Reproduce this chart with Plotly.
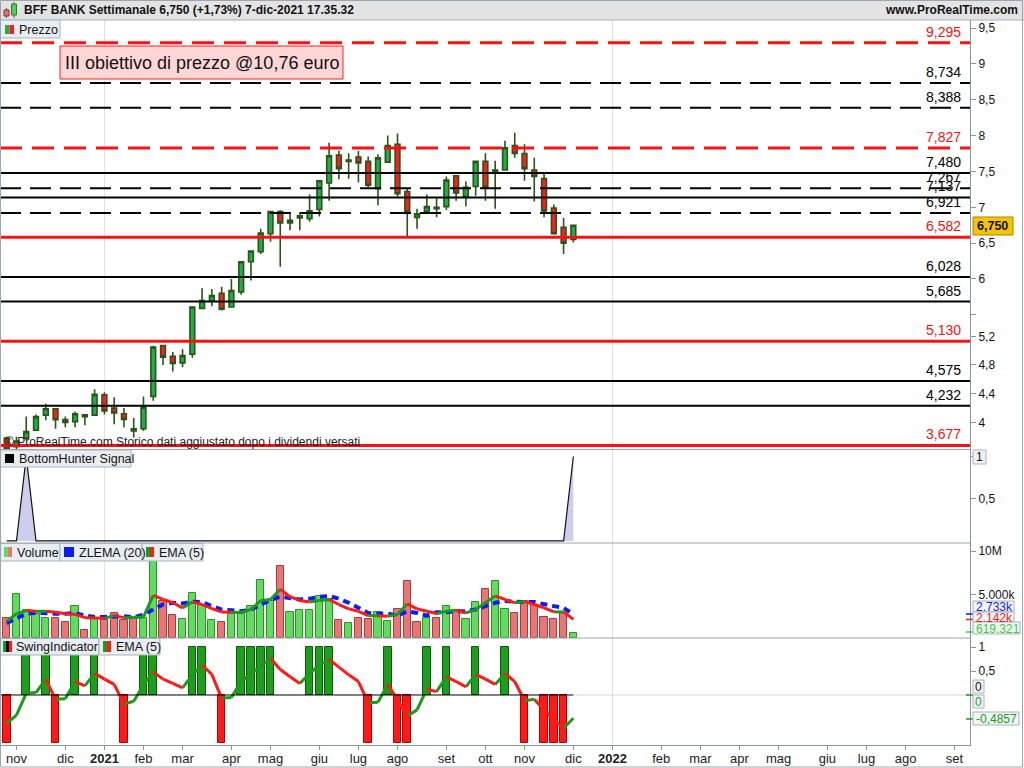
import pandas as pd
import plotly.graph_objects as go
from plotly.subplots import make_subplots

# ---------------- data ----------------
week_start = "2020-10-26"
n_weeks = 59
dates = pd.date_range(week_start, periods=n_weeks, freq="7D")

open_px = [3.78, 3.66, 3.78, 3.89, 4.10, 4.19, 4.04, 4.01, 4.105, 4.10,
           4.385, 4.20, 4.12, 3.91, 3.91, 4.36, 5.07, 4.92, 4.83, 4.95,
           5.59, 5.69, 5.80, 5.61, 5.82, 6.24, 6.38, 6.63, 6.94, 6.78,
           6.85, 6.84, 6.97, 7.34, 7.73, 7.64, 7.70, 7.64, 7.26, 7.63,
           7.88, 7.22, 6.86, 6.94, 6.98, 7.01, 7.44, 7.15, 7.29, 7.64,
           7.50, 7.52, 7.86, 7.75, 7.52, 7.40, 6.99, 6.72, 6.55]
high_px = [3.80, 3.80, 4.08, 4.11, 4.26, 4.20, 4.08, 4.15, 4.11, 4.46,
           4.42, 4.35, 4.20, 4.06, 4.36, 5.07, 5.08, 4.98, 5.02, 5.62,
           5.87, 5.86, 5.89, 6.00, 6.25, 6.40, 6.70, 6.95, 6.96, 6.91,
           6.93, 7.18, 7.38, 7.90, 7.79, 7.755, 7.79, 7.71, 7.74, 8.00,
           8.03, 7.26, 6.98, 7.18, 7.14, 7.43, 7.45, 7.36, 7.65, 7.755,
           7.65, 7.93, 8.04, 7.88, 7.69, 7.47, 7.04, 6.85, 6.76]
low_px = [3.62, 3.62, 3.75, 3.88, 4.03, 3.91, 3.93, 3.93, 3.96, 4.09,
          4.11, 3.975, 3.93, 3.79, 3.88, 4.30, 4.80, 4.71, 4.77, 4.90,
          5.58, 5.62, 5.56, 5.60, 5.78, 5.98, 6.35, 6.52, 6.17, 6.68,
          6.68, 6.80, 6.87, 7.09, 7.39, 7.40, 7.35, 7.28, 7.03, 7.62,
          7.15, 6.60, 6.70, 6.94, 6.86, 6.96, 7.09, 7.01, 7.16, 7.09,
          6.98, 7.51, 7.69, 7.37, 7.08, 6.86, 6.62, 6.35, 6.51]
close_px = [3.64, 3.74, 3.87, 4.08, 4.19, 4.035, 4.00, 4.12, 4.08, 4.39,
            4.16, 4.13, 4.04, 3.88, 4.21, 5.05, 4.91, 4.82, 4.93, 5.61,
            5.70, 5.77, 5.58, 5.84, 6.24, 6.39, 6.64, 6.94, 6.78, 6.82,
            6.88, 6.95, 7.37, 7.72, 7.54, 7.66, 7.62, 7.31, 7.69, 7.86,
            7.19, 6.93, 6.91, 7.01, 7.00, 7.38, 7.20, 7.28, 7.64, 7.28,
            7.52, 7.83, 7.75, 7.54, 7.43, 6.95, 6.63, 6.50, 6.75]

# volume in millions of shares
volume_m = [2.33, 5.02, 3.19, 2.80, 2.33, 2.33, 1.83, 3.73, 0.94, 2.33,
            2.10, 2.88, 2.10, 2.33, 2.33, 10.2, 4.20, 2.65, 2.22, 5.21,
            3.76, 2.10, 1.83, 2.80, 2.80, 3.73, 6.69, 4.25, 8.25, 3.00,
            3.27, 3.27, 4.83, 4.52, 2.10, 1.72, 2.33, 2.22, 3.04, 1.99,
            3.35, 6.50, 1.83, 2.33, 2.25, 3.65, 3.19, 2.22, 4.09, 5.67,
            6.58, 3.35, 2.88, 4.25, 3.76, 2.41, 2.22, 2.88, 0.619321]
vol_ema5_m = [1.91, 2.80, 3.15, 3.07, 3.07, 2.95, 2.80, 2.72, 2.34, 2.30,
              2.26, 2.57, 2.34, 2.37, 2.42, 4.90, 4.43, 4.05, 3.46, 4.13,
              3.85, 3.38, 3.00, 2.95, 2.95, 3.27, 4.31, 4.43, 5.60, 4.75,
              4.31, 4.13, 4.31, 4.40, 3.85, 3.35, 3.07, 2.57, 2.57, 2.49,
              2.69, 3.93, 3.35, 3.07, 2.80, 3.07, 3.19, 2.88, 3.27, 4.05,
              4.83, 4.43, 4.05, 4.20, 3.85, 3.46, 3.00, 3.00, 2.142]
vol_zlema20_m = [1.71, 2.30, 2.80, 2.88, 2.80, 2.80, 2.80, 2.88, 2.57, 2.42,
                 2.42, 2.49, 2.49, 2.37, 2.69, 3.27, 3.85, 4.05, 3.97, 4.16,
                 4.13, 3.66, 3.27, 3.19, 3.07, 3.27, 3.85, 4.36, 4.75, 4.63,
                 4.43, 4.51, 4.75, 4.83, 4.51, 4.05, 3.46, 2.88, 2.80, 2.80,
                 2.57, 3.07, 2.88, 2.57, 2.95, 2.95, 3.07, 3.07, 3.27, 3.66,
                 4.05, 4.24, 4.13, 4.13, 4.13, 3.85, 3.66, 3.46, 2.733]

bottom_hunter = [0, 0, 1, 0, 0, 0, 0, 0, 0, 0,
                 0, 0, 0, 0, 0, 0, 0, 0, 0, 0,
                 0, 0, 0, 0, 0, 0, 0, 0, 0, 0,
                 0, 0, 0, 0, 0, 0, 0, 0, 0, 0,
                 0, 0, 0, 0, 0, 0, 0, 0, 0, 0,
                 0, 0, 0, 0, 0, 0, 0, 0, 1]

swing = [-1, 0, 1, 0, 1, -1, 0, 1, 0, 1,
         0, 0, -1, 0, 1, 1, 0, 0, 0, 1,
         1, 0, -1, 0, 1, 1, 1, 1, 0, 0,
         0, 1, 1, 1, 0, 0, 0, -1, 0, 1,
         -1, -1, 0, 1, 0, 1, 0, 0, 1, 0,
         0, 1, 0, -1, 0, -1, -1, -1, 0]
swing_ema5 = [-0.59, -0.42, 0.035, 0.05, 0.33, -0.09, -0.08, 0.28, 0.19, 0.45,
              0.33, 0.22, -0.19, -0.13, 0.21, 0.48, 0.33, 0.24, 0.15, 0.42,
              0.62, 0.43, -0.07, -0.05, 0.28, 0.45, 0.59, 0.76, 0.53, 0.38,
              0.24, 0.45, 0.62, 0.74, 0.58, 0.42, 0.28, -0.16, -0.15, 0.22,
              -0.10, -0.44, -0.31, 0.12, 0.07, 0.38, 0.28, 0.17, 0.43, 0.33,
              0.22, 0.45, 0.28, -0.12, -0.09, -0.31, -0.52, -0.69, -0.4857]

level_values = [9.295, 8.734, 8.388, 7.827, 7.480, 7.267, 7.137, 6.921,
                6.582, 6.028, 5.685, 5.130, 4.575, 4.232, 3.677]
level_labels = ["9,295", "8,734", "8,388", "7,827", "7,480", "7,267", "7,137", "6,921",
                "6,582", "6,028", "5,685", "5,130", "4,575", "4,232", "3,677"]
level_kind = ["red_dash", "black_dash", "black_dash", "red_dash", "black", "black_dash",
              "black", "black_dash", "red", "black", "black", "red", "black", "black", "red"]

price_ticks = [4, 4.4, 4.8, 5.2, 5.5, 6, 6.5, 7, 7.5, 8, 8.5, 9, 9.5]
price_tick_text = ["4", "4,4", "4,8", "5,2", "", "6", "6,5", "7", "7,5", "8", "8,5", "9", "9,5"]

month_names = ["gen", "feb", "mar", "apr", "mag", "giu", "lug", "ago", "set", "ott", "nov", "dic"]

title_text = "BFF BANK Settimanale 6,750 (+1,73%) 7-dic-2021 17.35.32"
site_text = "www.ProRealTime.com"
note_text = "III obiettivo di prezzo @10,76 euro"
copyright_text = "© ProRealTime.com Storico dati aggiustato dopo i dividendi versati"
last_price_text = "6,750"

# ---------------- layout helpers ----------------
FONT = "Liberation Sans"
PW, TOP, BOT = 970.0, 20.0, 745.0
PH = BOT - TOP
WEEK = pd.Timedelta(days=7)


def fx(x):
    return x / PW


def fy(y):
    return (BOT - y) / PH


x_start = dates[0] - WEEK * (6.7 / 9.77)
x_end = dates[0] + WEEK * ((PW - 6.7) / 9.77)

tick_dates = list(pd.date_range("2020-11-01", "2022-09-30", freq="WOM-1MON"))
tick_text = []
for d in tick_dates:
    if d.month == 1:
        tick_text.append("<b>%d</b>" % d.year)
    else:
        tick_text.append(month_names[d.month - 1])

fig = make_subplots(rows=4, cols=1, shared_xaxes=True, vertical_spacing=0)

# price candles
fig.add_trace(go.Candlestick(
    x=dates, open=open_px, high=high_px, low=low_px, close=close_px,
    increasing=dict(fillcolor="#1fae48", line=dict(color="#2a5418", width=1.6)),
    decreasing=dict(fillcolor="#ff1c1c", line=dict(color="#2a5418", width=1.6)),
    whiskerwidth=0, hoverinfo="skip"), row=1, col=1)

# bottom hunter
fig.add_trace(go.Scatter(
    x=dates, y=bottom_hunter, mode="lines", line=dict(color="#111111", width=1.2),
    fill="tozeroy", fillcolor="rgba(196,196,234,0.85)",
    hoverinfo="skip"), row=2, col=1)

# volume bars (colour by close vs previous close)
vol_fill, vol_line = [], []
for i in range(n_weeks):
    ref = open_px[0] if i == 0 else close_px[i - 1]
    up = close_px[i] >= ref
    vol_fill.append("#62dc5e" if up else "#e97575")
    vol_line.append("#2f8f2c" if up else "#a53d3d")
fig.add_trace(go.Bar(
    x=dates, y=volume_m, width=0.74 * 7 * 86400000,
    marker=dict(color=vol_fill, line=dict(color=vol_line, width=1)),
    hoverinfo="skip"), row=3, col=1)

fig.add_trace(go.Scatter(
    x=dates, y=vol_zlema20_m, mode="lines",
    line=dict(color="#0a1cff", width=4, dash="7px,5px"), hoverinfo="skip"), row=3, col=1)


def slope_split(vals):
    ux, uy, dx, dy = [], [], [], []
    for k in range(len(vals) - 1):
        if vals[k + 1] >= vals[k]:
            ux += [dates[k], dates[k + 1], None]
            uy += [vals[k], vals[k + 1], None]
        else:
            dx += [dates[k], dates[k + 1], None]
            dy += [vals[k], vals[k + 1], None]
    return ux, uy, dx, dy


ux, uy, dx, dy = slope_split(vol_ema5_m)
fig.add_trace(go.Scatter(x=ux, y=uy, mode="lines", line=dict(color="#1b9a1b", width=3),
                         connectgaps=False, hoverinfo="skip"), row=3, col=1)
fig.add_trace(go.Scatter(x=dx, y=dy, mode="lines", line=dict(color="#ff1a1a", width=3),
                         connectgaps=False, hoverinfo="skip"), row=3, col=1)

# swing indicator
sw_y = [s if s != 0 else None for s in swing]
sw_fill = ["#1d9f1d" if s > 0 else "#ff1a1a" for s in swing]
sw_line = ["#0d5c0d" if s > 0 else "#b00000" for s in swing]
fig.add_trace(go.Bar(
    x=dates, y=sw_y, width=0.78 * 7 * 86400000,
    marker=dict(color=sw_fill, line=dict(color=sw_line, width=1)),
    hoverinfo="skip"), row=4, col=1)
ux, uy, dx, dy = slope_split(swing_ema5)
fig.add_trace(go.Scatter(x=ux, y=uy, mode="lines", line=dict(color="#1b9a1b", width=3),
                         connectgaps=False, hoverinfo="skip"), row=4, col=1)
fig.add_trace(go.Scatter(x=dx, y=dy, mode="lines", line=dict(color="#ff1a1a", width=3),
                         connectgaps=False, hoverinfo="skip"), row=4, col=1)

# ---------------- axes ----------------
yax_common = dict(side="right", showgrid=False, zeroline=False, ticks="outside", ticklen=5,
                  tickcolor="#8796a3", showline=True, linecolor="#8796a3", linewidth=1,
                  tickfont=dict(family=FONT, size=12, color="#111111"), fixedrange=True)
fig.update_layout(
    yaxis=dict(domain=[fy(449.5), 1.0], range=[3.621, 9.613], tickvals=price_ticks,
               ticktext=price_tick_text, **yax_common),
    yaxis2=dict(domain=[fy(543), fy(449.5)], range=[-0.024, 1.083], tickvals=[0.5, 1],
                ticktext=["0,5", ""], **yax_common),
    yaxis3=dict(domain=[fy(638), fy(543)], range=[0, 10.92], tickvals=[5, 10],
                ticktext=["5.000k", "10M"], **yax_common),
    yaxis4=dict(domain=[0, fy(638)], range=[-1.042, 1.1875], tickvals=[0.5, 1],
                ticktext=["0,5", "1"], **yax_common),
)
for k in ["xaxis", "xaxis2", "xaxis3", "xaxis4"]:
    fig.layout[k].update(range=[x_start, x_end], showgrid=False, zeroline=False,
                         rangeslider=dict(visible=False), fixedrange=True)
for k in ["xaxis", "xaxis2", "xaxis3"]:
    fig.layout[k].update(showticklabels=False, ticks="")
fig.layout.xaxis4.update(tickvals=tick_dates, ticktext=tick_text, ticks="outside", ticklen=4,
                         tickcolor="#8796a3", tickfont=dict(family=FONT, size=13, color="#222222"),
                         showline=True, linecolor="#8796a3", ticklabelstandoff=-3)

shapes = []
annotations = []


def rect(x0, y0, x1, y1, fill, line=None, lw=1, layer="above"):
    shapes.append(dict(type="rect", xref="paper", yref="paper", x0=fx(x0), x1=fx(x1),
                       y0=fy(y1), y1=fy(y0), fillcolor=fill,
                       line=dict(color=line or fill, width=lw if line else 0), layer=layer))


def hline_px(x0, x1, y, color, w=1):
    shapes.append(dict(type="line", xref="paper", yref="paper", x0=fx(x0), x1=fx(x1),
                       y0=fy(y), y1=fy(y), line=dict(color=color, width=w), layer="above"))


def text_px(x, y, txt, size=12, color="#111111", anchor="left", bold=False, bg=None,
            border=None, family=FONT):
    annotations.append(dict(xref="paper", yref="paper", x=fx(x), y=fy(y), text=txt,
                            showarrow=False, xanchor=anchor, yanchor="middle",
                            font=dict(family=family, size=size, color=color,
                                      weight="bold" if bold else "normal"),
                            bgcolor=bg, bordercolor=border, borderwidth=1 if border else 0,
                            borderpad=1))


# year separators
for yd in ["2021-01-04", "2022-01-03"]:
    shapes.append(dict(type="line", xref="x", yref="paper", x0=yd, x1=yd, y0=0, y1=1,
                       line=dict(color="#dadfe4", width=1), layer="below"))

# price levels
style_map = {
    "red_dash": ("#ff1010", 3, "22px,10px"),
    "red": ("#ff1010", 3, "solid"),
    "black_dash": ("#000000", 2, "21px,9px"),
    "black": ("#000000", 2, "solid"),
}
for val, lab, kind in zip(level_values, level_labels, level_kind):
    col, w, dash = style_map[kind]
    shapes.append(dict(type="line", xref="paper", yref="y", x0=0, x1=1, y0=val, y1=val,
                       line=dict(color=col, width=w, dash=dash), layer="above"))
    annotations.append(dict(xref="paper", yref="y", x=fx(963), y=val, text=lab,
                            showarrow=False, xanchor="right", yanchor="bottom", yshift=1,
                            font=dict(family=FONT, size=14,
                                      color="#ff1010" if kind.startswith("red") else "#000000")))

# swing zero line
shapes.append(dict(type="line", xref="x", yref="y4", x0=x_start, x1=dates[-1], y0=0, y1=0,
                   line=dict(color="#000000", width=1), layer="above"))
shapes.append(dict(type="line", xref="x", yref="y4", x0=dates[-1], x1=x_end, y0=0, y1=0,
                   line=dict(color="#d4d8dc", width=1), layer="above"))

# panel separators
for ysep in [449.5, 543, 638]:
    hline_px(0, PW, ysep, "#98a4ae", 1)

# header
rect(0, 0, 1024, 20, "#e3e3e3", layer="above")
hline_px(0, 1024, 20, "#a9b2ba", 1)
# header icon: two little candles
shapes.append(dict(type="line", xref="paper", yref="paper", x0=fx(6.5), x1=fx(6.5), y0=fy(18), y1=fy(8),
                   line=dict(color="#555555", width=1), layer="above"))
rect(4, 10, 9, 16, "#f07070", "#803030")
shapes.append(dict(type="line", xref="paper", yref="paper", x0=fx(14), x1=fx(14), y0=fy(18), y1=fy(2),
                   line=dict(color="#555555", width=1), layer="above"))
rect(11.5, 4, 16.5, 15, "#50d050", "#2a7a2a")
text_px(23, 10.5, title_text, size=12, bold=True, color="#111111")
text_px(1019, 10.5, site_text, size=12, bold=True, color="#111111", anchor="right")

# legend boxes
LBG, LBD = "#e8edf1", "#a7b3bc"
rect(0, 20, 60, 38, LBG, LBD)
rect(5, 25, 9.5, 34, "#1fae48")
rect(9.5, 25, 14, 34, "#ff1c1c")
text_px(18, 29.5, "Prezzo", size=12.5)

rect(0, 450, 131, 467, LBG, LBD)
rect(5, 454, 14, 463, "#000000")
text_px(18, 458.5, "BottomHunter Signal", size=12.5)

rect(0, 543.5, 60, 561, LBG, LBD)
rect(4, 547, 8, 557, "#62dc5e")
rect(8, 547, 12, 557, "#e97575")
text_px(16, 552.5, "Volume", size=12.5)
rect(60, 543.5, 142, 561, LBG, LBD)
rect(64, 547, 74, 557, "#0a1cff")
text_px(78, 552.5, "ZLEMA (20)", size=12.5)
rect(142, 543.5, 203, 561, LBG, LBD)
rect(146, 547, 150, 557, "#1b9a1b")
rect(150, 547, 154, 557, "#ff1a1a")
text_px(158, 552.5, "EMA (5)", size=12.5)

rect(0, 638.5, 99, 655, LBG, LBD)
rect(3, 641, 6, 652, "#1b9a1b")
rect(6, 641, 9, 652, "#000000")
rect(9, 641, 12, 652, "#ff1a1a")
text_px(15, 646.5, "SwingIndicator", size=12.5)
rect(99, 638.5, 160, 655, LBG, LBD)
rect(103, 641, 107, 652, "#1b9a1b")
rect(107, 641, 111, 652, "#ff1a1a")
text_px(115, 646.5, "EMA (5)", size=12.5)

# target note
rect(60, 46, 343, 79, "#ffd6d6", "#ff2020")
text_px(201.5, 62.5, note_text, size=18, anchor="center", color="#111111")

# copyright
text_px(4, 442, copyright_text, size=12, color="#222222")

# last price label
rect(973, 217, 1013, 235, "#f7c400", "#a88400")
text_px(993, 226, last_price_text, size=12.5, bold=True, anchor="center")

# bottom hunter boxed "1"
rect(973, 450, 986, 464, "#f2f2f2", "#a7b3bc")
text_px(979.5, 457, "1", size=12, anchor="center")

# volume right labels
for yy, c in [(614, "#0a1cff"), (619.5, "#ff1a1a"), (632, "#3ccc3c")]:
    hline_px(966, 973, yy, c, 1.5)
rect(973, 601, 1014, 612, "#f2f4f5", "#a7b3bc")
text_px(975, 607, "2.733k", size=12, color="#0a1cff")
rect(973, 612, 1014, 622, "#f2f4f5", "#a7b3bc")
text_px(975, 617.5, "2.142k", size=12, color="#ff1a1a")
rect(973, 622, 1020, 634, "#f2f4f5", "#a7b3bc")
text_px(975, 628.5, "619.321", size=12, color="#3ccc3c")

# swing right labels
hline_px(966, 973, 695, "#1b9a1b", 1.5)
hline_px(966, 973, 719, "#1b9a1b", 1.5)
rect(973, 680, 984, 693, "#f2f4f5", "#a7b3bc")
text_px(978.5, 686.5, "0", size=12, anchor="center", color="#111111")
rect(973, 695, 984, 708, "#f2f4f5", "#a7b3bc")
text_px(978.5, 701.5, "0", size=12, anchor="center", color="#1b9a1b")
rect(973, 712, 1019, 725, "#f2f4f5", "#a7b3bc")
text_px(975, 718.5, "-0,4857", size=12, color="#1b9a1b")

# outer frame
shapes.append(dict(type="rect", xref="paper", yref="paper", x0=fx(0.5), x1=fx(1022.5),
                   y0=fy(767), y1=fy(0.5), line=dict(color="#9aa6b0", width=1),
                   fillcolor="rgba(0,0,0,0)", layer="above"))

fig.update_layout(
    width=1024, height=768, autosize=False,
    margin=dict(l=0, r=54, t=20, b=23, pad=0),
    paper_bgcolor="#ffffff", plot_bgcolor="#ffffff",
    showlegend=False, separators=",.", bargap=0,
    font=dict(family=FONT, size=12, color="#111111"),
    shapes=shapes, annotations=annotations,
)

fig.write_html("out.html", config={"displayModeBar": False},
               post_script="document.body.style.margin='0';")
